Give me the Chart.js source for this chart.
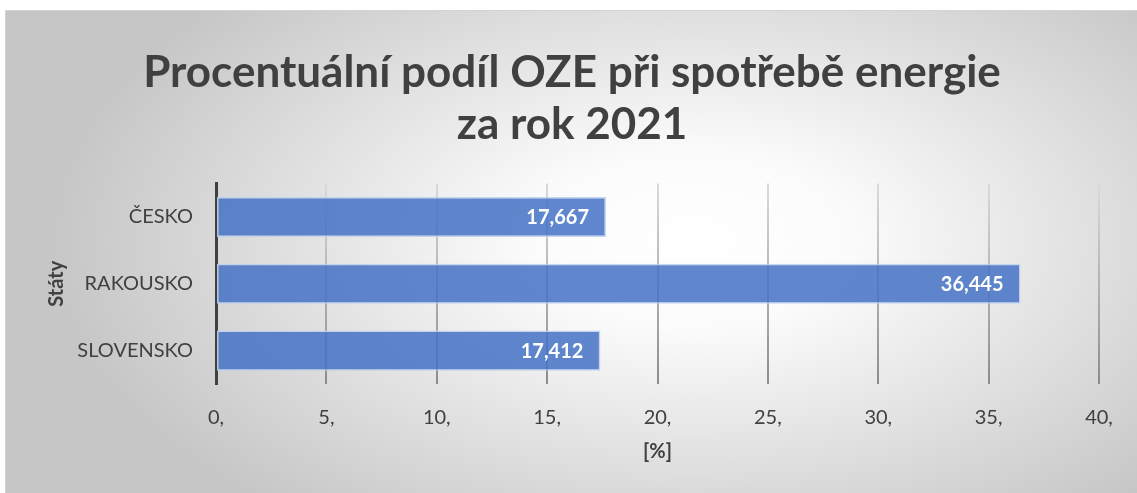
<!DOCTYPE html>
<html>
<head>
<meta charset="utf-8">
<script src="https://cdn.jsdelivr.net/npm/chart.js@4"></script>
<style>
  html, body { margin: 0; padding: 0; background: #fff; }
  #wrap { width: 1137px; height: 493px; }
</style>
</head>
<body>
<div id="wrap"><canvas id="oze" width="1137" height="493"></canvas></div>
<script>
// data z grafu
const staty = ['ČESKO', 'RAKOUSKO', 'SLOVENSKO'];
const podilOZE = [17.667, 36.445, 17.412];
const titulek = ['Procentuální podíl OZE při spotřebě energie', 'za rok 2021'];

const textColor = '#404040';
const font = 'Lato, "Open Sans", sans-serif';

// pozadí s radiálním přechodem (jako v Excelu)
const pozadiPlugin = {
  id: 'pozadi',
  beforeDraw(chart) {
    const ctx = chart.ctx;
    ctx.save();
    ctx.fillStyle = '#ffffff';
    ctx.fillRect(0, 0, chart.width, chart.height);
    ctx.translate(690, 240);
    ctx.scale(1, 0.55);
    const g = ctx.createRadialGradient(0, 0, 0, 0, 0, 640);
    g.addColorStop(0, '#ffffff');
    g.addColorStop(0.25, '#fbfbfb');
    g.addColorStop(1, '#c6c6c6');
    ctx.fillStyle = g;
    ctx.fillRect(-685, -230 / 0.55, 1137, 483 / 0.55);
    ctx.restore();
    ctx.save();
    ctx.strokeStyle = '#d4d4d4';
    ctx.lineWidth = 1;
    ctx.beginPath();
    ctx.moveTo(5.5, chart.height);
    ctx.lineTo(5.5, 10.5);
    ctx.lineTo(chart.width, 10.5);
    ctx.stroke();
    ctx.restore();
  }
};

// popisky hodnot uvnitř sloupců
const popiskyPlugin = {
  id: 'popisky',
  afterDatasetsDraw(chart) {
    const ctx = chart.ctx;
    const meta = chart.getDatasetMeta(0);
    ctx.save();
    ctx.fillStyle = '#ffffff';
    ctx.font = 'bold 20px ' + font;
    ctx.textAlign = 'right';
    ctx.textBaseline = 'middle';
    meta.data.forEach((bar, i) => {
      const txt = podilOZE[i].toFixed(3).replace('.', ',');
      ctx.fillText(txt, bar.x - 17, bar.y + 1);
    });
    ctx.restore();
  }
};

// přechod mřížky - nahoře světlejší, dole tmavší
function barvaMrizky(context) {
  const chart = context.chart;
  const area = chart.chartArea;
  if (!area) return '#bfbfbf';
  const g = chart.ctx.createLinearGradient(0, area.top, 0, area.bottom);
  g.addColorStop(0, '#dadada');
  g.addColorStop(1, '#8c8c8c');
  return g;
}

new Chart(document.getElementById('oze'), {
  type: 'bar',
  data: {
    labels: staty,
    datasets: [{
      data: podilOZE,
      backgroundColor: 'rgba(68, 114, 196, 0.85)',
      borderColor: 'rgba(190, 208, 238, 0.9)',
      borderWidth: 1.5,
      borderSkipped: false,
      categoryPercentage: 1,
      barPercentage: 0.6
    }]
  },
  options: {
    indexAxis: 'y',
    responsive: false,
    animation: false,
    layout: { padding: { left: 45, right: 38, top: 18, bottom: 29 } },
    plugins: {
      legend: { display: false },
      tooltip: { enabled: false },
      title: {
        display: true,
        text: titulek,
        color: textColor,
        font: { family: font, size: 44, weight: 'bold', lineHeight: 1.2 },
        padding: { top: 28, bottom: 32 }
      }
    },
    scales: {
      x: {
        min: 0,
        max: 40,
        afterFit: scale => { scale.height = 80; },
        ticks: {
          stepSize: 5,
          color: textColor,
          padding: 22,
          font: { family: font, size: 20 },
          callback: v => v + ','
        },
        grid: { color: barvaMrizky, lineWidth: 2, drawTicks: false },
        border: { display: false },
        title: {
          display: true,
          text: '[%]',
          color: textColor,
          font: { family: font, size: 20, weight: 'bold' },
          padding: { top: 9, bottom: 0 }
        }
      },
      y: {
        afterFit: scale => { scale.width = 171; },
        ticks: {
          color: textColor,
          padding: 15,
          font: { family: font, size: 20 }
        },
        grid: { display: false },
        border: { color: textColor, width: 3 },
        title: {
          display: true,
          text: 'Státy',
          color: textColor,
          font: { family: font, size: 20, weight: 'bold' },
          padding: { top: 0, bottom: 9 }
        }
      }
    }
  },
  plugins: [pozadiPlugin, popiskyPlugin]
});
</script>
</body>
</html>
